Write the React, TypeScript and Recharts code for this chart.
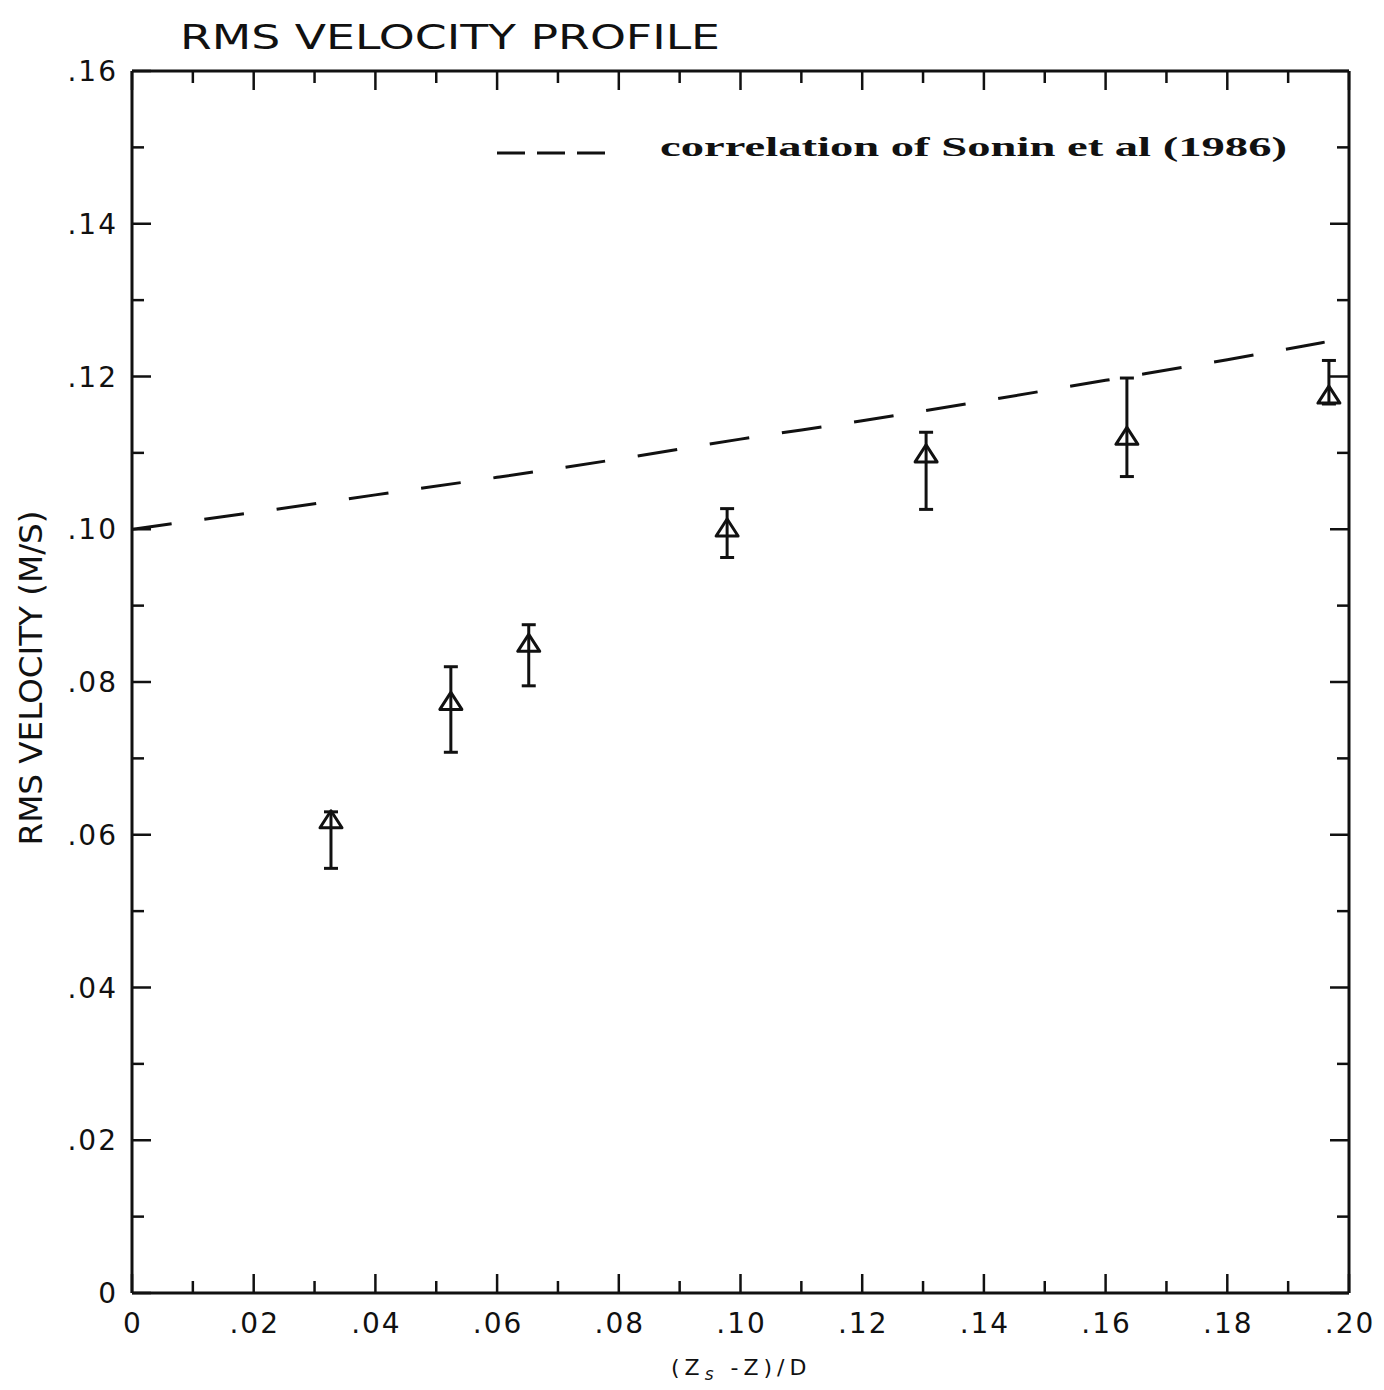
import { ComposedChart, XAxis, YAxis, Line, Scatter, ErrorBar } from 'recharts';

// axis ticks (every .01, labels on every other one)
const xTicks = [0, 0.01, 0.02, 0.03, 0.04, 0.05, 0.06, 0.07, 0.08, 0.09, 0.1, 0.11, 0.12, 0.13, 0.14, 0.15, 0.16, 0.17, 0.18, 0.19, 0.2];
const yTicks = [0, 0.01, 0.02, 0.03, 0.04, 0.05, 0.06, 0.07, 0.08, 0.09, 0.1, 0.11, 0.12, 0.13, 0.14, 0.15, 0.16];

// measured points with asymmetric error bars
const pointX = [0.0327, 0.0524, 0.0652, 0.0978, 0.1305, 0.1635, 0.1967];
const pointV = [0.0617, 0.0772, 0.0848, 0.0999, 0.1096, 0.1119, 0.1173];
const errLow = [0.0061, 0.0064, 0.0053, 0.0036, 0.007, 0.005, 0.0009];
const errHigh = [0.0013, 0.0048, 0.0027, 0.0028, 0.0031, 0.0079, 0.0048];

// correlation of Sonin et al (1986)
const soninX = [0, 0.02, 0.04, 0.06, 0.08, 0.1, 0.12, 0.14, 0.16, 0.18, 0.196];
const soninV = [0.1, 0.1022, 0.1045, 0.1068, 0.1092, 0.1118, 0.1142, 0.1168, 0.1195, 0.1222, 0.1245];

const points = pointX.map((x, i) => ({ x, v: pointV[i], err: [errLow[i], errHigh[i]] }));
const sonin = soninX.map((x, i) => ({ x, v: soninV[i] }));

const INK = '#111';
const MAJOR = 19;
const MINOR = 12;

const fmt = (v: number) => (v === 0 ? '0' : '.' + String(Math.round(v * 100)).padStart(2, '0'));
const isMajor = (v: number) => Math.round(v * 100) % 2 === 0;

const BottomTick = ({ x, y, payload }: any) => {
  const major = isMajor(payload.value);
  return (
    <g>
      <line x1={x} y1={y} x2={x} y2={y - (major ? MAJOR : MINOR)} stroke={INK} strokeWidth={2.5} />
      {major && (
        <text x={x + 1} y={y + 40} textAnchor="middle" fontFamily="DejaVu Sans" fontSize={28} letterSpacing={2} fill={INK}>
          {fmt(payload.value)}
        </text>
      )}
    </g>
  );
};

const TopTick = ({ x, y, payload }: any) => {
  const major = isMajor(payload.value);
  return <line x1={x} y1={y} x2={x} y2={y + (major ? MAJOR : MINOR)} stroke={INK} strokeWidth={2.5} />;
};

const LeftTick = ({ x, y, payload }: any) => {
  const major = isMajor(payload.value);
  return (
    <g>
      <line x1={x} y1={y} x2={x + (major ? MAJOR : MINOR)} y2={y} stroke={INK} strokeWidth={2.5} />
      {major && (
        <text x={x - 14} y={y + 10} textAnchor="end" fontFamily="DejaVu Sans" fontSize={28} letterSpacing={2} fill={INK}>
          {fmt(payload.value)}
        </text>
      )}
    </g>
  );
};

const RightTick = ({ x, y, payload }: any) => {
  const major = isMajor(payload.value);
  return <line x1={x} y1={y} x2={x - (major ? MAJOR : MINOR)} y2={y} stroke={INK} strokeWidth={2.5} />;
};

const Triangle = ({ cx, cy }: any) => (
  <polygon
    points={`${cx},${cy - 11} ${cx - 11},${cy + 6} ${cx + 11},${cy + 6}`}
    fill="none"
    stroke={INK}
    strokeWidth={3}
    strokeLinejoin="round"
  />
);

const axisLine = { stroke: INK, strokeWidth: 3 };

export default function App() {
  return (
    <div style={{ position: 'relative', width: 1384, height: 1390, margin: '-8px 0 0 -8px', background: '#fff' }}>
      <ComposedChart width={1384} height={1390} margin={{ top: 70, right: 34, bottom: 96, left: 131 }}>
        <XAxis
          xAxisId="b"
          type="number"
          dataKey="x"
          domain={[0, 0.2]}
          ticks={xTicks}
          interval={0}
          height={1}
          tickSize={0}
          tickMargin={0}
          tickLine={false}
          axisLine={axisLine}
          tick={(p: any) => <BottomTick {...p} />}
          allowDataOverflow
        />
        <XAxis
          xAxisId="t"
          orientation="top"
          type="number"
          dataKey="x"
          domain={[0, 0.2]}
          ticks={xTicks}
          interval={0}
          height={1}
          tickSize={0}
          tickMargin={0}
          tickLine={false}
          axisLine={axisLine}
          tick={(p: any) => <TopTick {...p} />}
          allowDataOverflow
        />
        <YAxis
          yAxisId="l"
          type="number"
          domain={[0, 0.16]}
          ticks={yTicks}
          interval={0}
          width={1}
          tickSize={0}
          tickMargin={0}
          tickLine={false}
          axisLine={axisLine}
          tick={(p: any) => <LeftTick {...p} />}
          allowDataOverflow
        />
        <YAxis
          yAxisId="r"
          orientation="right"
          type="number"
          domain={[0, 0.16]}
          ticks={yTicks}
          interval={0}
          width={1}
          tickSize={0}
          tickMargin={0}
          tickLine={false}
          axisLine={axisLine}
          tick={(p: any) => <RightTick {...p} />}
          allowDataOverflow
        />
        <Line
          xAxisId="b"
          yAxisId="l"
          data={sonin}
          dataKey="v"
          type="monotone"
          stroke={INK}
          strokeWidth={3}
          strokeDasharray="40 33"
          dot={false}
          isAnimationActive={false}
        />
        <Scatter xAxisId="b" yAxisId="l" data={points} dataKey="v" shape={<Triangle />} isAnimationActive={false}>
          <ErrorBar dataKey="err" direction="y" width={7} stroke={INK} strokeWidth={3} isAnimationActive={false} />
        </Scatter>
      </ComposedChart>

      <svg width={1384} height={1390} style={{ position: 'absolute', left: 0, top: 0, pointerEvents: 'none' }}>
        <text x={180} y={49} fontFamily="DejaVu Sans" fontSize={34} fill={INK} textLength={540} lengthAdjust="spacingAndGlyphs">
          RMS VELOCITY PROFILE
        </text>
        <line x1={497} y1={153} x2={605} y2={153} stroke={INK} strokeWidth={3} strokeDasharray="28 12" />
        <text
          x={660}
          y={156}
          fontFamily="Liberation Serif"
          fontWeight="bold"
          fontSize={27}
          fill={INK}
          textLength={627}
          lengthAdjust="spacingAndGlyphs"
        >
          correlation of Sonin et al (1986)
        </text>
        <text x={671} y={1375} fontFamily="DejaVu Sans" fontSize={22} letterSpacing={5} fill={INK}>
          <tspan>(Z</tspan>
          <tspan fontSize={17} dy={5} fontStyle="italic">s</tspan>
          <tspan dy={-5}> -Z)/D</tspan>
        </text>
        <text
          x={0}
          y={0}
          transform="translate(42 678) rotate(-90)"
          textAnchor="middle"
          fontFamily="DejaVu Sans"
          fontSize={32}
          fill={INK}
          textLength={335}
          lengthAdjust="spacingAndGlyphs"
        >
          RMS VELOCITY (M/S)
        </text>
      </svg>
    </div>
  );
}
